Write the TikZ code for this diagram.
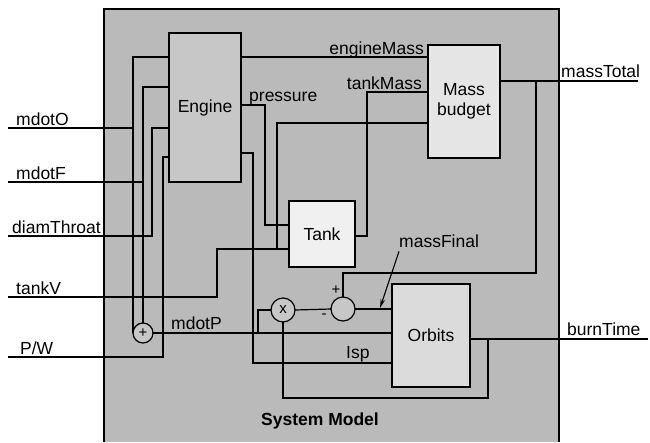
\documentclass[tikz,border=0pt]{standalone}
\usepackage{fontspec}
\setmainfont{Liberation Sans}
\usetikzlibrary{arrows.meta}
\begin{document}
\begin{tikzpicture}[x=1pt,y=-1pt,
  wire/.style={line width=1.2pt,black},
  block/.style={draw,line width=1.2pt,inner sep=0pt,outer sep=0pt,align=center,font=\fontsize{17.5}{20}\selectfont},
  opc/.style={draw,circle,line width=1.2pt,inner sep=0pt,outer sep=0pt,font=\fontsize{15}{16}\selectfont},
  lbl/.style={inner sep=0pt,font=\fontsize{17.5}{20}\selectfont}]
\useasboundingbox (0,0) rectangle (650,442);
% system box
\fill[black!27] (104,9) rectangle (559,442);
\draw[line width=1.2pt] (104,442) -- (104,9) -- (559,9) -- (559,442);
% blocks
\node[block,fill=black!22,minimum width=72,minimum height=149] (eng) at (205,107.5) {Engine};
\node[block,fill=black!10,minimum width=72,minimum height=113] (mass) at (464,101.5) {Mass\\budget};
\node[block,fill=black!6,minimum width=66,minimum height=66] (tank) at (322,234) {Tank};
\node[block,fill=black!14,minimum width=78,minimum height=103] (orb) at (431,335.5) {Orbits};
\node[opc,fill=black!22,minimum size=20] (pl) at (143,333) {+};
\node[opc,fill=black!22,minimum size=24] (ti) at (283,310) {x};
\node[opc,fill=black!22,minimum size=24] (mi) at (343,309) {};
% input/output ends
\coordinate (inO) at (8,128);
\coordinate (inF) at (8,182);
\coordinate (inD) at (8,236);
\coordinate (inV) at (8,297);
\coordinate (inP) at (8,357);
\coordinate (outT) at (638,81);
\coordinate (outB) at (648,339);
% left inputs
\draw[wire] (inO) -| (pl.west);
\draw[wire] (pl.west) |- (eng.west |- 0,57);
\draw[wire] (inF) -| (pl.north);
\draw[wire] (pl.north) |- (eng.west |- 0,87);
\draw[wire] (inD) -| (152,128) -- (eng.west |- 0,128);
\draw[wire] (inP) -| (163,157) -- (eng.west |- 0,157);
\draw[wire] (inV) -| (217,249) -- (tank.west |- 0,249);
\draw[wire] (277,249) |- (mass.west |- 0,123);
% engine outputs
\draw[wire] (eng.east |- 0,57) -- (mass.west |- 0,57);
\draw[wire] (eng.east |- 0,105) -| (265,225) -- (tank.west |- 0,225);
\draw[wire] (eng.east |- 0,153) -| (253,363) -- (orb.west |- 0,363);
% tank output
\draw[wire] (tank.east |- 0,236) -| (367,92) -- (mass.west |- 0,92);
% mass total
\draw[wire] (mass.east |- 0,81) -- (outT);
\draw[wire] (536,81) |- (mi.north |- 0,273) -- (mi.north);
% mdotP
\draw[wire] (pl.east) -- (orb.west |- pl.east);
\draw[wire] (258,333) |- (ti.west);
\draw[wire] (ti.east) -- (mi.west);
\draw[wire] (mi.east) -- (orb.west |- mi.east);
% burn time
\draw[wire] (orb.east |- 0,339) -- (outB);
\draw[wire] (ti.south) |- (488,398) -- (488,339);
% labels
\node[lbl,anchor=base west] (lO) at (16,125) {mdotO};
\node[lbl,anchor=base west] (lF) at (16,179) {mdotF};
\node[lbl,anchor=base west] (lD) at (12,233) {diamThroat};
\node[lbl,anchor=base west] (lV) at (16,294) {tankV};
\node[lbl,anchor=base west] (lP) at (20,354) {P/W};
\node[lbl,anchor=base west] (lpr) at (249,101) {pressure};
\node[lbl,anchor=base east] (lem) at (424,54) {engineMass};
\node[lbl,anchor=base east] (ltm) at (422,89) {tankMass};
\node[lbl,anchor=base west] (lmt) at (561,77) {massTotal};
\node[lbl,anchor=base west] (lbt) at (567,335) {burnTime};
\node[lbl,anchor=base west] (lmp) at (171,329) {mdotP};
\node[lbl,anchor=base west] (lisp) at (346,358) {Isp};
\node[lbl,anchor=base west] (lmf) at (399,247) {massFinal};
\node[lbl,font=\fontsize{15}{16}\selectfont] (lplus) at (336,290) {+};
\node[lbl,font=\fontsize{15}{16}\selectfont] (lminus) at (324,316) {-};
\node[lbl,font=\bfseries\fontsize{17.5}{20}\selectfont] (lsys) at (320,421) {System Model};
\draw[line width=1.1pt,-{Stealth[length=9pt,width=4.5pt]}] (lmf.south west) ++(0,4) -- (380,308);
\end{tikzpicture}
\end{document}
